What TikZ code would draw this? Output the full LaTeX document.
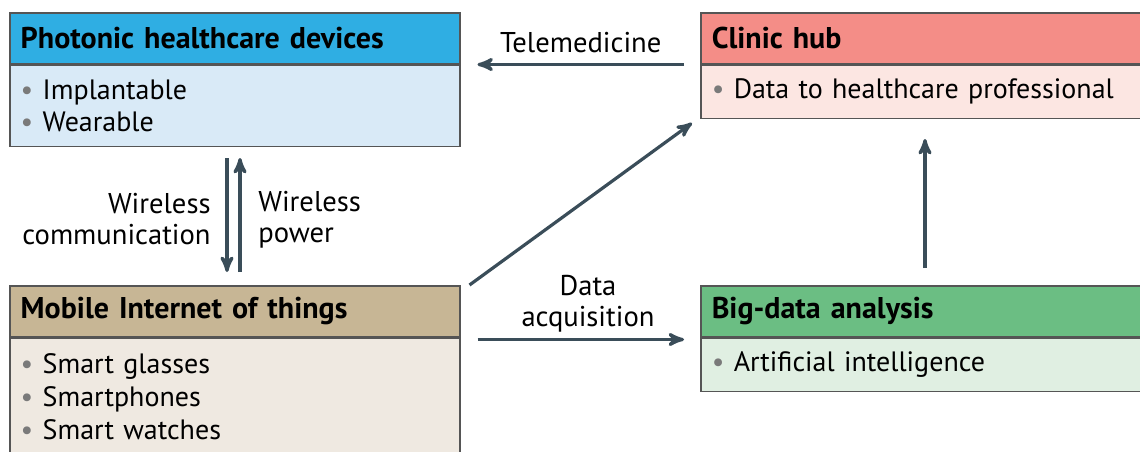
\documentclass[tikz,border=0pt]{standalone}
\usepackage{fontspec}
\setmainfont{PT Sans}
\usetikzlibrary{positioning}
\usetikzlibrary{arrows}

\definecolor{photoHead}{HTML}{2FAEE3}
\definecolor{photoBody}{HTML}{D9EAF7}
\definecolor{clinicHead}{HTML}{F48D87}
\definecolor{clinicBody}{HTML}{FCE6E2}
\definecolor{miotHead}{HTML}{C7B695}
\definecolor{miotBody}{HTML}{EFE9E1}
\definecolor{bigHead}{HTML}{6BBE83}
\definecolor{bigBody}{HTML}{E0EFE2}
\definecolor{arrowcol}{HTML}{3A4D59}
\definecolor{boxline}{HTML}{555555}
\definecolor{dotgrey}{HTML}{7A7A7A}

\newcommand{\itm}{\makebox[11pt][l]{\color{dotgrey}\textbullet}}

\tikzset{
	head/.style={draw=boxline, line width=0.75pt, anchor=north west, text width=214pt, inner xsep=5.5pt,
		minimum height=25.5pt, align=left, font=\fontsize{15}{17}\selectfont\bfseries},
	body/.style={draw=boxline, line width=0.75pt, text width=214pt, inner xsep=5.5pt, inner ysep=0pt,
		align=left, font=\fontsize{14}{16}\selectfont},
	arr/.style={->, line width=1.6pt, draw=arrowcol},
	lbl/.style={font=\fontsize{14.3}{15.5}\selectfont, inner sep=0pt}
}

\begin{document}
\begin{tikzpicture}[>=stealth', x=0.5pt, y=-0.5pt]
	\clip (0,0) rectangle (1140,451);
	% boxes
	\node [head, fill=photoHead] (photo) at (9,12) {Photonic healthcare devices};
	\node [body, fill=photoBody, minimum height=40.5pt, below=0pt of photo] (photobody) {\itm Implantable\\ \itm Wearable};
	\node [head, fill=clinicHead] (clinic) at (700,12) {Clinic hub};
	\node [body, fill=clinicBody, minimum height=26.5pt, below=0pt of clinic] (clinicbody) {\itm Data to healthcare professional};
	\node [head, fill=miotHead] (miot) at (9,285) {Mobile Internet of things};
	\node [body, fill=miotBody, minimum height=58pt, below=0pt of miot, font=\fontsize{14}{16.5}\selectfont] (miotbody) {\itm Smart glasses\\ \itm Smartphones\\ \itm Smart watches};
	\node [head, fill=bigHead] (bigdata) at (700,285) {Big-data analysis};
	\node [body, fill=bigBody, minimum height=26.5pt, below=0pt of bigdata] (bigdatabody) {\itm Artificial intelligence};

	% connectors
	\draw [arr] ([xshift=-8pt]clinic.south west) -- ([xshift=8.5pt]photo.south east)
		node [lbl, midway, above=5pt] (tele) {Telemedicine};
	\draw [arr] ([shift={(218,11)}]photobody.south west) -- ([shift={(218,-13)}]miot.north west);
	\draw [arr] ([shift={(231,-13)}]miot.north west) -- ([shift={(231,11)}]photobody.south west);
	\node [lbl, anchor=east, align=right] (wcomm) at (211,219) {Wireless\\communication};
	\node [lbl, anchor=west, align=left] (wpower) at (258,220) {Wireless\\power};
	\draw [arr] ([shift={(9,0)}]miot.north east) -- ([shift={(-8,4)}]clinicbody.south west);
	\draw [arr] ([shift={(17,2)}]miot.south east) -- ([shift={(-16,2)}]bigdata.south west);
	\node [lbl, align=center] (dacq) at (588,304) {Data\\acquisition};
	\draw [arr] ([shift={(225,-17)}]bigdata.north west) -- ([shift={(225,20)}]clinicbody.south west);
\end{tikzpicture}
\end{document}
